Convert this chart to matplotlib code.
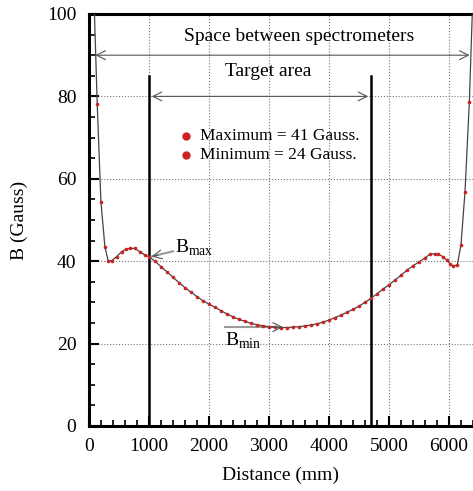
import matplotlib
matplotlib.use("Agg")
import matplotlib.pyplot as plt
from matplotlib.ticker import MultipleLocator

plt.rcParams['font.family'] = ['Liberation Serif', 'DejaVu Serif']
plt.rcParams['mathtext.fontset'] = 'custom'
plt.rcParams['mathtext.rm'] = 'Liberation Serif'

# field along the axis (mm, Gauss)
distance = [90, 138, 200, 267, 322, 378, 461, 544, 617, 683, 767, 850, 933, 1000,
            1100, 1200, 1300, 1400, 1500, 1600, 1700, 1800, 1900, 2000, 2100, 2200,
            2300, 2400, 2500, 2600, 2700, 2800, 2900, 3000, 3100, 3200, 3300, 3400,
            3500, 3600, 3700, 3800, 3900, 4000, 4100, 4200, 4300, 4400, 4500, 4600,
            4700, 4800, 4900, 5000, 5100, 5200, 5300, 5400, 5500, 5600, 5683, 5760,
            5822, 5900, 5961, 6020, 6072, 6139, 6200, 6267, 6339, 6390]
field = [101.0, 78.2, 54.4, 43.4, 40.1, 40.1, 41.1, 42.3, 42.9, 43.1, 43.1, 42.3, 41.5, 41.1,
         40.0, 38.7, 37.4, 36.1, 34.8, 33.6, 32.5, 31.4, 30.4, 29.6, 28.8, 28.0,
         27.2, 26.5, 25.9, 25.4, 24.9, 24.6, 24.3, 24.1, 24.0, 23.9, 23.9, 24.0,
         24.1, 24.3, 24.5, 24.8, 25.2, 25.7, 26.3, 26.9, 27.6, 28.3, 29.1, 30.0,
         31.0, 32.1, 33.2, 34.3, 35.4, 36.6, 37.8, 38.9, 39.8, 40.8, 41.7, 41.8,
         41.7, 41.1, 40.3, 39.3, 38.8, 39.1, 44.0, 56.9, 78.7, 101.0]

target_start = 1000
target_end = 4700
b_max = 41
b_min = 24

fig = plt.figure(figsize=(4.73, 4.91), dpi=100)
ax = fig.add_axes([0.188, 0.1324, 0.812, 0.8391])

ax.plot(distance, field, color='#444444', lw=0.9, marker='o', ms=1.6,
        mfc='#cc2222', mec='#cc2222', zorder=3)

# target area borders
ax.plot([target_start, target_start], [0, 85], color='black', lw=1.8, zorder=2)
ax.plot([target_end, target_end], [0, 85], color='black', lw=1.8, zorder=2)

arrow = dict(arrowstyle='<->', color='#555555', lw=0.8, mutation_scale=16)
ax.annotate('', xy=(60, 90), xytext=(6390, 90), arrowprops=arrow)
ax.annotate('', xy=(target_start, 80), xytext=(target_end, 80), arrowprops=arrow)
ax.text(3500, 92.5, 'Space between spectrometers', fontsize=14, ha='center', va='bottom')
ax.text(2980, 84, 'Target area', fontsize=14, ha='center', va='bottom')

ax.plot([1617, 1617], [70.4, 65.8], 'o', color='#cc2222', ms=5, ls='none')
ax.text(1850, 70.4, 'Maximum = %d Gauss.' % b_max, fontsize=12.5, va='center')
ax.text(1850, 65.8, 'Minimum = %d Gauss.' % b_min, fontsize=12.5, va='center')

# B_max / B_min pointers
ax.plot([1000, 1400], [b_max, 42.4], color='#999999', lw=1.5, zorder=2)
ax.annotate('', xy=(1000, b_max), xytext=(1200, 41.6),
            arrowprops=dict(arrowstyle='->', color='#555555', lw=0.8, mutation_scale=16))
ax.text(1440, 42, r'B$_{\mathrm{max}}$', fontsize=14, va='baseline')
ax.plot([2260, 3100], [b_min, b_min], color='#999999', lw=1.5, zorder=2)
ax.annotate('', xy=(3280, b_min), xytext=(3000, b_min),
            arrowprops=dict(arrowstyle='->', color='#555555', lw=0.8, mutation_scale=16))
ax.text(2260, 19.6, r'B$_{\mathrm{min}}$', fontsize=14, va='baseline')

ax.set_xlim(0, 6400)
ax.set_ylim(0, 100)
ax.xaxis.set_major_locator(MultipleLocator(1000))
ax.xaxis.set_minor_locator(MultipleLocator(200))
ax.yaxis.set_major_locator(MultipleLocator(20))
ax.yaxis.set_minor_locator(MultipleLocator(5))
ax.tick_params(which='major', direction='in', length=7, width=1.5, labelsize=14, pad=9)
ax.tick_params(which='minor', direction='in', length=4, width=1.2)
ax.grid(True, which='major', ls=':', color='#777777', lw=0.8)

for side in ['left', 'bottom', 'top']:
    ax.spines[side].set_linewidth(2.2)
ax.spines['right'].set_visible(False)

ax.set_xlabel('Distance (mm)', fontsize=14, labelpad=8)
ax.set_ylabel('B (Gauss)', fontsize=14, labelpad=14)

fig.savefig('out.png', dpi=100)
